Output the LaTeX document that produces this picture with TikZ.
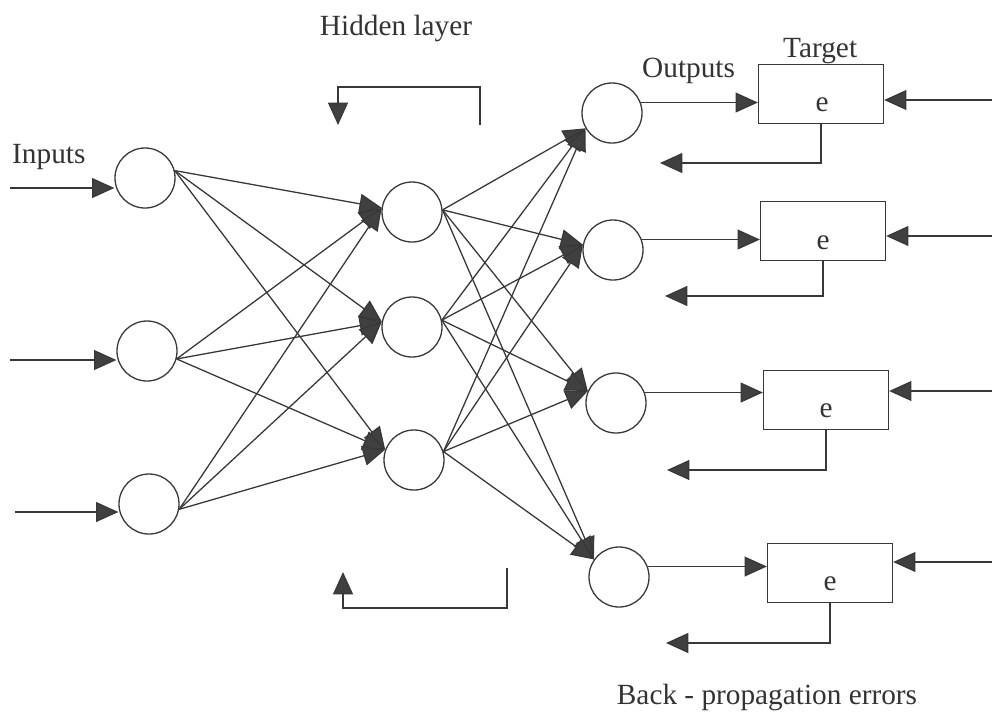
\documentclass[tikz,border=0pt]{standalone}
\usepackage{fontspec}
\setmainfont{Liberation Serif}
\usetikzlibrary{arrows.meta,calc}
\begin{document}
\begin{tikzpicture}[x=0.03cm,y=-0.03cm,
  ink/.style={draw=black!78, line width=1.1pt},
  neuron/.style={circle, ink, minimum size=1.8cm, inner sep=0pt},
  errbox/.style={rectangle, ink, minimum width=3.75cm, minimum height=1.75cm, inner sep=0pt},
  link/.style={ink, -{Triangle[length=19pt,width=17pt,fill=black!75]}},
  lbl/.style={text=black!80, font=\fontsize{25}{30}\selectfont, inner sep=0pt}
]
\useasboundingbox (0,0) rectangle (992,716);

% input layer
\node[neuron] (i1) at (145,178) {};
\node[neuron] (i2) at (147,351) {};
\node[neuron] (i3) at (149,504) {};
% hidden layer
\node[neuron] (h1) at (412,212) {};
\node[neuron] (h2) at (412,327) {};
\node[neuron] (h3) at (414,460) {};
% output layer
\node[neuron] (o1) at (612,113) {};
\node[neuron] (o2) at (613,250) {};
\node[neuron] (o3) at (616,403) {};
\node[neuron] (o4) at (619,577) {};

% error boxes
\node[errbox] (t1) at (821,94) {};
\node[errbox] (t2) at (823,231) {};
\node[errbox] (t3) at (826,400) {};
\node[errbox] (t4) at (830,573) {};
\node[lbl] (e1) at (822,105) {e};
\node[lbl] (e2) at (823,243) {e};
\node[lbl] (e3) at (826,411) {e};
\node[lbl] (e4) at (830,584) {e};

% labels
\node[lbl, anchor=base] (lh) at (396,35) {Hidden layer};
\node[lbl, anchor=base west] (li) at (12,163) {Inputs};
\node[lbl, anchor=base west] (lo) at (642,77) {Outputs};
\node[lbl, anchor=base west] (lt) at (783,57) {Target};
\node[lbl, anchor=base] (lb) at (767,704) {Back - propagation errors};

% incoming signals
\coordinate (a1) at (10,188);
\coordinate (a2) at (10,360);
\coordinate (a3) at (15,512);
\draw[link] (a1) -- (a1 -| i1.west);
\draw[link] (a2) -- (a2 -| i2.west);
\draw[link] (a3) -- (a3 -| i3.west);

% input -> hidden
\foreach \a/\aa in {i1/14, i2/-15, i3/-10}
  \foreach \b/\bb in {h1/172, h2/170, h3/160}
    \draw[link] (\a.\aa) -- (\b.\bb);

% hidden -> output
\foreach \a/\aa in {h1/4, h2/13, h3/16}
  \foreach \b/\bb in {o1/210, o2/170, o3/157, o4/145}
    \draw[link] (\a.\aa) -- (\b.\bb);

% outputs -> error boxes
\foreach \k in {1,2,3,4}
  \draw[link] (o\k.20) -- (o\k.20 -| t\k.west);

% targets entering from the right
\coordinate (r1) at (992,100);
\coordinate (r2) at (992,236);
\coordinate (r3) at (992,391);
\coordinate (r4) at (992,562);
\foreach \k in {1,2,3,4}
  \draw[link] (r\k) -- (r\k -| t\k.east);

% error feedback
\coordinate (f1) at (660,163);
\coordinate (f2) at (665,296);
\coordinate (f3) at (667,470);
\coordinate (f4) at (666,643);
\foreach \k in {1,2,3,4}
  \draw[link] (t\k.south) |- (f\k);

% back-propagation brackets around the hidden layer
\coordinate (tb1) at (480,125);
\coordinate (tb2) at (338,125);
\draw[link] (tb1) -- ++(0,-38) -| (tb2);
\coordinate (bb1) at (507,568);
\coordinate (bb2) at (343,572);
\draw[link] (bb1) -- ++(0,40) -| (bb2);
\end{tikzpicture}
\end{document}
